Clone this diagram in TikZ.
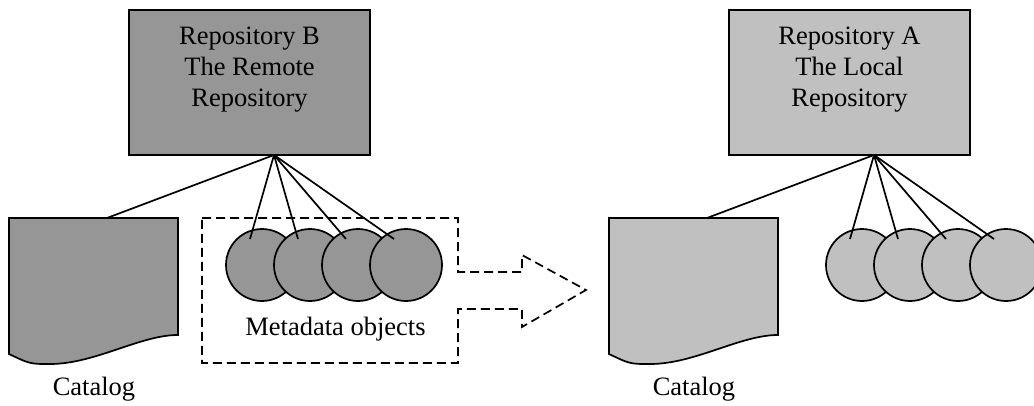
\documentclass[tikz,border=0pt]{standalone}
\usepackage{fontspec}
\setmainfont{Liberation Serif}
\usetikzlibrary{shapes.geometric,calc}
\definecolor{darkfill}{RGB}{150,150,150}
\definecolor{lightfill}{RGB}{192,192,192}
\begin{document}
\begin{tikzpicture}[x=1pt,y=-1pt, line width=1.7pt,
  repo/.style={draw, rectangle, minimum width=241pt, minimum height=145pt, inner sep=0pt},
  obj/.style={draw, circle, minimum size=72pt, inner sep=0pt},
  lbl/.style={font=\fontsize{26.5}{31}\selectfont, align=center, inner sep=0pt},
  link/.style={draw, line width=1.7pt},
  flow/.style={draw, dash pattern=on 9pt off 5pt, line width=1.7pt}]
\useasboundingbox (0,0) rectangle (1034,405);
\clip (0,0) rectangle (1034,405);

% ---------- Remote repository (B) ----------
\node[repo, fill=darkfill] (boxB) at (249.5,82.5) {};
\node[lbl] (tB) at (249.5,70) {Repository B\\The Remote\\Repository};
\coordinate (apexB) at (274,155);
\path[draw, fill=darkfill] (9,218) -- (178,218) -- (178,335)
  .. controls (140,335) and (95,364) .. (50,364)
  .. controls (30,364) .. (9,354) -- cycle;
\coordinate (catB) at (107,218);
\node[obj, fill=darkfill] (b1) at (262,265) {};
\node[obj, fill=darkfill] (b2) at (310,265) {};
\node[obj, fill=darkfill] (b3) at (358,265) {};
\node[obj, fill=darkfill] (b4) at (406,265) {};
\draw[link] (apexB) -- (catB);
\foreach \i in {1,...,4} \draw[link] (apexB) -- ($(b\i.center)+(-12,-26)$);
\node[lbl, anchor=base] (catlblB) at (94,395) {Catalog};

% ---------- transfer outline ----------
\path[flow] (202,218) -- (458,218) -- (458,272) -- (522,272) -- (522,255)
  -- (586,290) -- (522,327) -- (522,309) -- (458,309) -- (458,363)
  -- (202,363) -- cycle;
\node[lbl, anchor=base] (meta) at (335.5,335) {Metadata objects};

% ---------- Local repository (A) ----------
\node[repo, fill=lightfill] (boxA) at (849.5,82.5) {};
\node[lbl] (tA) at (849.5,70) {Repository A\\The Local\\Repository};
\coordinate (apexA) at (874,155);
\path[draw, fill=lightfill] (609,218) -- (778,218) -- (778,335)
  .. controls (740,335) and (695,364) .. (650,364)
  .. controls (630,364) .. (609,354) -- cycle;
\coordinate (catA) at (707,218);
\node[obj, fill=lightfill] (a1) at (862,265) {};
\node[obj, fill=lightfill] (a2) at (910,265) {};
\node[obj, fill=lightfill] (a3) at (958,265) {};
\node[obj, fill=lightfill] (a4) at (1006,265) {};
\draw[link] (apexA) -- (catA);
\foreach \i in {1,...,4} \draw[link] (apexA) -- ($(a\i.center)+(-12,-26)$);
\node[lbl, anchor=base] (catlblA) at (694,395) {Catalog};
\end{tikzpicture}
\end{document}
